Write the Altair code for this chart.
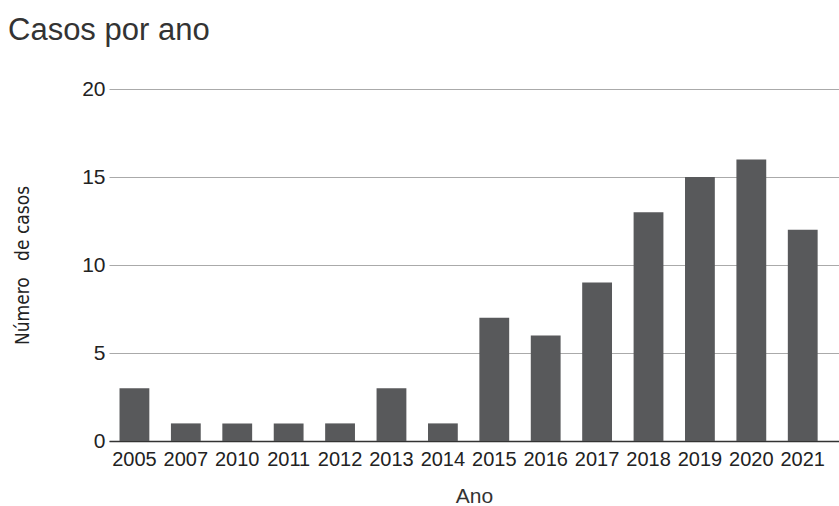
import altair as alt
import pandas as pd

anos = ["2005", "2007", "2010", "2011", "2012", "2013", "2014", "2015",
        "2016", "2017", "2018", "2019", "2020", "2021"]
casos = [3, 1, 1, 1, 1, 3, 1, 7, 6, 9, 13, 15, 16, 12]

df = pd.DataFrame({"Ano": anos, "Casos": casos})

font = "Liberation Sans"

chart = alt.Chart(df).mark_bar(color="#58595b").encode(
    x=alt.X("Ano:N", sort=anos,
            scale=alt.Scale(paddingInner=0.42, paddingOuter=0.31, align=0.33),
            axis=alt.Axis(title="Ano", labelAngle=0, labelFontSize=20,
                          labelColor="#222", labelFont=font, labelPadding=8,
                          ticks=False, domain=True, domainColor="#333",
                          domainWidth=1.5, titleFont=font, titleFontSize=21,
                          titleFontWeight="normal", titleColor="#333",
                          titlePadding=16, grid=False)),
    y=alt.Y("Casos:Q", scale=alt.Scale(domain=[0, 20]),
            axis=alt.Axis(title="Número\u00a0\u00a0\u00a0de casos",
                          values=[0, 5, 10, 15, 20],
                          labelFontSize=21, labelColor="#222", labelFont=font,
                          ticks=False, domain=False, labelPadding=4,
                          gridColor="#aaaaaa", gridWidth=1.2,
                          titleFont="DejaVu Sans Condensed", titleFontSize=19,
                          titleFontWeight="normal", titleColor="#222",
                          titlePadding=49)),
).properties(
    width=730, height=352,
    title=alt.TitleParams("Casos por ano", anchor="start", frame="group",
                          font=font, fontSize=31, fontWeight="normal",
                          color="#333", dx=-101, offset=31),
    autosize=alt.AutoSizeParams(type="none"),
    padding={"left": 109, "top": 89, "right": 0, "bottom": 65},
).configure_view(stroke=None)

chart.save("out.html", embed_options={"renderer": "svg", "actions": False})
